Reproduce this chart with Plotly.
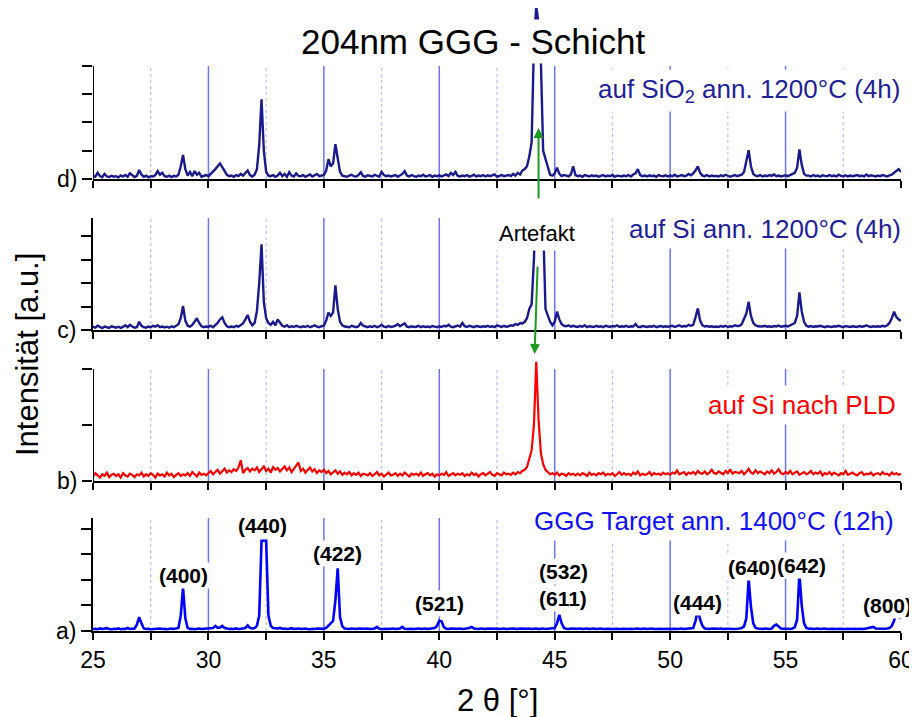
import plotly.graph_objects as go

# ---------------- data ----------------
two_theta = [round(25 + 0.1 * i, 1) for i in range(351)]

# a) GGG Target ann. 1400°C (12h)
target_1400 = (
    [0.08,0.09,0.07,0.10,0.08,0.09,0.11,0.08,0.07,0.09] +  # 25
    [0.08,0.10,0.07,0.09,0.08,0.12,0.08,0.09,0.10,0.25] +  # 26
    [0.54,0.30,0.10,0.08,0.09,0.07,0.08,0.09,0.08,0.10] +  # 27
    [0.08,0.09,0.07,0.08,0.10,0.08,0.09,0.12,0.60,1.70] +  # 28
    [0.50,0.12,0.08,0.09,0.07,0.08,0.10,0.08,0.09,0.08] +  # 29
    [0.09,0.10,0.12,0.20,0.12,0.14,0.20,0.12,0.09,0.08] +  # 30
    [0.09,0.08,0.10,0.08,0.09,0.11,0.12,0.22,0.12,0.10] +  # 31
    [0.12,0.20,0.60,3.54,3.54,3.54,0.60,0.20,0.12,0.11] +  # 32
    [0.10,0.12,0.09,0.10,0.08,0.09,0.11,0.08,0.09,0.10] +  # 33
    [0.08,0.09,0.10,0.08,0.07,0.09,0.08,0.10,0.09,0.08] +  # 34
    [0.09,0.12,0.20,0.30,0.40,1.20,2.46,0.55,0.18,0.10] +  # 35
    [0.09,0.08,0.10,0.09,0.08,0.10,0.09,0.08,0.09,0.10] +  # 36
    [0.08,0.09,0.10,0.16,0.09,0.08,0.10,0.09,0.08,0.09] +  # 37
    [0.10,0.08,0.09,0.10,0.16,0.09,0.08,0.10,0.09,0.08] +  # 38
    [0.09,0.10,0.08,0.09,0.10,0.08,0.09,0.10,0.12,0.20] +  # 39
    [0.40,0.38,0.15,0.09,0.08,0.10,0.09,0.08,0.09,0.10] +  # 40
    [0.08,0.09,0.10,0.12,0.16,0.10,0.09,0.08,0.10,0.09] +  # 41
    [0.08,0.10,0.09,0.08,0.09,0.10,0.08,0.09,0.10,0.08] +  # 42
    [0.09,0.08,0.10,0.09,0.08,0.10,0.09,0.08,0.09,0.10] +  # 43
    [0.08,0.09,0.10,0.08,0.09,0.10,0.08,0.09,0.10,0.09] +  # 44
    [0.12,0.30,0.63,0.30,0.12,0.09,0.08,0.10,0.09,0.08] +  # 45
    [0.09,0.10,0.08,0.09,0.10,0.08,0.09,0.10,0.08,0.09] +  # 46
    [0.10,0.08,0.09,0.10,0.09,0.08,0.10,0.09,0.08,0.10] +  # 47
    [0.09,0.08,0.10,0.09,0.08,0.09,0.10,0.08,0.09,0.10] +  # 48
    [0.08,0.09,0.10,0.08,0.09,0.10,0.09,0.08,0.10,0.09] +  # 49
    [0.08,0.10,0.09,0.08,0.09,0.10,0.08,0.09,0.10,0.09] +  # 50
    [0.12,0.40,0.85,0.45,0.20,0.10,0.09,0.08,0.10,0.09] +  # 51
    [0.08,0.09,0.10,0.08,0.09,0.10,0.09,0.08,0.10,0.09] +  # 52
    [0.10,0.12,0.18,0.50,2.04,0.95,0.30,0.12,0.10,0.09] +  # 53
    [0.08,0.10,0.09,0.08,0.10,0.20,0.25,0.18,0.10,0.09] +  # 54
    [0.10,0.09,0.08,0.10,0.15,0.45,2.24,1.00,0.30,0.12] +  # 55
    [0.09,0.10,0.08,0.09,0.10,0.08,0.09,0.10,0.08,0.09] +  # 56
    [0.10,0.09,0.08,0.10,0.09,0.08,0.10,0.09,0.08,0.10] +  # 57
    [0.09,0.08,0.10,0.09,0.08,0.10,0.09,0.12,0.16,0.10] +  # 58
    [0.09,0.10,0.08,0.09,0.10,0.12,0.20,0.40,0.78,0.55] +  # 59
    [0.50]
)

# b) auf Si nach PLD
si_pld = (
    [0.08,0.14,0.10,0.06,0.12,0.09,0.15,0.07,0.11,0.13] +  # 25
    [0.09,0.12,0.06,0.14,0.10,0.08,0.13,0.11,0.07,0.12] +  # 26
    [0.10,0.15,0.08,0.12,0.09,0.14,0.11,0.06,0.13,0.10] +  # 27
    [0.12,0.08,0.15,0.10,0.13,0.07,0.11,0.14,0.09,0.12] +  # 28
    [0.10,0.14,0.09,0.16,0.12,0.08,0.15,0.11,0.13,0.10] +  # 29
    [0.14,0.18,0.12,0.16,0.20,0.13,0.17,0.22,0.15,0.19] +  # 30
    [0.16,0.21,0.18,0.24,0.37,0.14,0.20,0.23,0.17,0.22] +  # 31
    [0.19,0.24,0.16,0.21,0.26,0.18,0.22,0.15,0.25,0.20] +  # 32
    [0.23,0.17,0.21,0.26,0.19,0.24,0.16,0.22,0.28,0.33] +  # 33
    [0.18,0.22,0.15,0.20,0.24,0.17,0.21,0.14,0.19,0.16] +  # 34
    [0.20,0.14,0.18,0.12,0.16,0.19,0.13,0.17,0.11,0.15] +  # 35
    [0.12,0.16,0.10,0.14,0.11,0.15,0.09,0.13,0.12,0.10] +  # 36
    [0.14,0.09,0.12,0.16,0.10,0.13,0.08,0.12,0.15,0.10] +  # 37
    [0.11,0.14,0.09,0.13,0.10,0.15,0.12,0.08,0.13,0.11] +  # 38
    [0.13,0.10,0.15,0.09,0.12,0.14,0.10,0.13,0.08,0.12] +  # 39
    [0.10,0.13,0.11,0.16,0.09,0.12,0.14,0.10,0.13,0.11] +  # 40
    [0.14,0.09,0.12,0.10,0.15,0.11,0.13,0.08,0.12,0.14] +  # 41
    [0.10,0.13,0.16,0.11,0.09,0.14,0.12,0.10,0.15,0.12] +  # 42
    [0.13,0.11,0.15,0.12,0.16,0.14,0.18,0.20,0.25,0.40] +  # 43
    [0.55,1.00,2.13,1.10,0.50,0.30,0.20,0.16,0.12,0.14] +  # 44
    [0.11,0.15,0.10,0.13,0.12,0.09,0.14,0.11,0.13,0.10] +  # 45
    [0.13,0.10,0.14,0.12,0.09,0.15,0.11,0.13,0.10,0.14] +  # 46
    [0.12,0.15,0.10,0.13,0.11,0.14,0.09,0.12,0.16,0.11] +  # 47
    [0.14,0.11,0.13,0.10,0.15,0.12,0.17,0.10,0.13,0.11] +  # 48
    [0.12,0.16,0.10,0.14,0.12,0.13,0.11,0.15,0.12,0.14] +  # 49
    [0.11,0.15,0.13,0.19,0.12,0.14,0.16,0.11,0.15,0.13] +  # 50
    [0.16,0.12,0.18,0.14,0.13,0.17,0.12,0.15,0.20,0.14] +  # 51
    [0.13,0.17,0.15,0.12,0.18,0.14,0.21,0.13,0.16,0.15] +  # 52
    [0.14,0.18,0.12,0.16,0.22,0.15,0.13,0.19,0.14,0.17] +  # 53
    [0.15,0.12,0.17,0.14,0.19,0.13,0.16,0.21,0.14,0.12] +  # 54
    [0.16,0.13,0.18,0.12,0.15,0.17,0.11,0.14,0.16,0.12] +  # 55
    [0.14,0.18,0.12,0.15,0.13,0.17,0.10,0.14,0.12,0.16] +  # 56
    [0.11,0.15,0.13,0.10,0.14,0.12,0.18,0.11,0.13,0.15] +  # 57
    [0.12,0.10,0.14,0.16,0.11,0.13,0.12,0.15,0.10,0.13] +  # 58
    [0.14,0.11,0.16,0.12,0.13,0.10,0.15,0.12,0.14,0.11] +  # 59
    [0.13]
)

# c) auf Si ann. 1200°C (4h)
si_1200 = (
    [0.14,0.10,0.18,0.12,0.08,0.15,0.11,0.09,0.16,0.12] +  # 25
    [0.10,0.14,0.09,0.13,0.20,0.12,0.22,0.15,0.10,0.12] +  # 26
    [0.35,0.18,0.12,0.10,0.15,0.12,0.18,0.14,0.20,0.12] +  # 27
    [0.15,0.11,0.14,0.10,0.16,0.12,0.18,0.25,0.50,1.02] +  # 28
    [0.40,0.18,0.14,0.22,0.35,0.50,0.30,0.16,0.12,0.15] +  # 29
    [0.14,0.18,0.12,0.20,0.30,0.45,0.54,0.30,0.16,0.12] +  # 30
    [0.15,0.12,0.18,0.14,0.20,0.28,0.45,0.64,0.35,0.20] +  # 31
    [0.30,0.80,2.00,3.65,1.20,0.50,0.30,0.22,0.35,0.20] +  # 32
    [0.45,0.30,0.18,0.14,0.20,0.12,0.16,0.13,0.18,0.14] +  # 33
    [0.12,0.16,0.13,0.18,0.12,0.15,0.20,0.14,0.12,0.16] +  # 34
    [0.18,0.40,0.74,0.60,0.75,1.90,0.90,0.35,0.20,0.15] +  # 35
    [0.14,0.12,0.18,0.15,0.12,0.16,0.30,0.18,0.14,0.12] +  # 36
    [0.16,0.13,0.18,0.12,0.15,0.22,0.14,0.12,0.17,0.13] +  # 37
    [0.15,0.18,0.25,0.16,0.22,0.28,0.14,0.12,0.16,0.13] +  # 38
    [0.14,0.18,0.12,0.16,0.13,0.15,0.12,0.17,0.14,0.12] +  # 39
    [0.16,0.13,0.18,0.15,0.22,0.14,0.12,0.16,0.19,0.14] +  # 40
    [0.30,0.16,0.13,0.18,0.14,0.12,0.17,0.15,0.13,0.16] +  # 41
    [0.14,0.18,0.13,0.16,0.12,0.20,0.15,0.13,0.18,0.14] +  # 42
    [0.16,0.20,0.18,0.25,0.22,0.30,0.28,0.35,0.50,0.90] +  # 43
    [1.10,3.00,6.50,7.00,6.50,4.50,0.90,0.60,0.35,0.20] +  # 44
    [0.35,0.78,0.45,0.25,0.18,0.16,0.20,0.14,0.18,0.15] +  # 45
    [0.13,0.17,0.14,0.20,0.12,0.16,0.15,0.13,0.18,0.14] +  # 46
    [0.16,0.12,0.18,0.14,0.13,0.17,0.15,0.20,0.13,0.16] +  # 47
    [0.14,0.18,0.13,0.16,0.15,0.25,0.14,0.12,0.17,0.15] +  # 48
    [0.13,0.16,0.14,0.18,0.12,0.15,0.17,0.13,0.16,0.14] +  # 49
    [0.15,0.18,0.13,0.16,0.20,0.14,0.17,0.15,0.22,0.18] +  # 50
    [0.22,0.55,0.92,0.40,0.20,0.15,0.17,0.14,0.16,0.13] +  # 51
    [0.15,0.13,0.17,0.14,0.18,0.13,0.16,0.15,0.20,0.17] +  # 52
    [0.18,0.25,0.45,0.70,1.20,0.60,0.30,0.20,0.16,0.14] +  # 53
    [0.15,0.18,0.14,0.16,0.13,0.17,0.15,0.19,0.14,0.16] +  # 54
    [0.18,0.15,0.20,0.22,0.30,0.60,1.60,0.80,0.35,0.18] +  # 55
    [0.14,0.17,0.13,0.16,0.15,0.18,0.14,0.12,0.16,0.15] +  # 56
    [0.13,0.16,0.15,0.18,0.14,0.12,0.17,0.15,0.13,0.16] +  # 57
    [0.15,0.13,0.17,0.14,0.16,0.20,0.15,0.13,0.16,0.14] +  # 58
    [0.16,0.14,0.18,0.15,0.20,0.30,0.50,0.78,0.55,0.45] +  # 59
    [0.40]
)

# d) auf SiO2 ann. 1200°C (4h)
sio2_1200 = (
    [0.12,0.08,0.22,0.10,0.06,0.18,0.09,0.07,0.11,0.08] +  # 25
    [0.10,0.06,0.13,0.09,0.14,0.08,0.20,0.12,0.07,0.11] +  # 26
    [0.32,0.15,0.08,0.12,0.06,0.10,0.09,0.14,0.28,0.15] +  # 27
    [0.22,0.10,0.08,0.12,0.07,0.11,0.09,0.15,0.45,0.85] +  # 28
    [0.35,0.12,0.25,0.10,0.28,0.15,0.22,0.08,0.11,0.14] +  # 29
    [0.10,0.18,0.25,0.35,0.45,0.55,0.42,0.28,0.15,0.10] +  # 30
    [0.12,0.08,0.14,0.10,0.18,0.12,0.22,0.30,0.14,0.09] +  # 31
    [0.15,0.35,1.20,2.82,1.00,0.25,0.12,0.10,0.14,0.08] +  # 32
    [0.12,0.22,0.10,0.18,0.08,0.24,0.12,0.09,0.20,0.11] +  # 33
    [0.10,0.14,0.08,0.12,0.16,0.09,0.13,0.18,0.10,0.12] +  # 34
    [0.14,0.30,0.70,0.45,0.55,1.23,0.70,0.25,0.12,0.10] +  # 35
    [0.08,0.12,0.15,0.10,0.09,0.14,0.24,0.11,0.08,0.13] +  # 36
    [0.10,0.09,0.15,0.12,0.08,0.25,0.14,0.10,0.12,0.09] +  # 37
    [0.11,0.14,0.08,0.12,0.18,0.28,0.12,0.09,0.14,0.10] +  # 38
    [0.08,0.12,0.10,0.15,0.09,0.11,0.14,0.08,0.12,0.10] +  # 39
    [0.13,0.09,0.12,0.16,0.10,0.22,0.14,0.25,0.11,0.09] +  # 40
    [0.12,0.10,0.14,0.08,0.11,0.15,0.09,0.12,0.10,0.14] +  # 41
    [0.09,0.13,0.10,0.12,0.16,0.08,0.11,0.14,0.10,0.12] +  # 42
    [0.14,0.10,0.18,0.12,0.22,0.16,0.30,0.35,0.45,0.80] +  # 43
    [1.30,4.80,6.10,5.50,4.20,1.00,0.70,0.35,0.15,0.12] +  # 44
    [0.20,0.40,0.18,0.10,0.14,0.12,0.09,0.16,0.45,0.14] +  # 45
    [0.10,0.12,0.08,0.14,0.11,0.09,0.13,0.10,0.12,0.08] +  # 46
    [0.11,0.14,0.09,0.12,0.10,0.15,0.08,0.12,0.11,0.09] +  # 47
    [0.12,0.10,0.14,0.09,0.16,0.20,0.35,0.14,0.10,0.12] +  # 48
    [0.09,0.13,0.10,0.12,0.08,0.14,0.11,0.10,0.13,0.09] +  # 49
    [0.12,0.10,0.15,0.09,0.11,0.14,0.10,0.12,0.18,0.13] +  # 50
    [0.20,0.30,0.45,0.22,0.12,0.10,0.14,0.09,0.12,0.10] +  # 51
    [0.11,0.09,0.13,0.10,0.15,0.12,0.08,0.11,0.14,0.10] +  # 52
    [0.12,0.15,0.25,0.60,1.02,0.45,0.18,0.12,0.10,0.14] +  # 53
    [0.09,0.12,0.10,0.14,0.11,0.16,0.10,0.12,0.09,0.11] +  # 54
    [0.13,0.10,0.15,0.18,0.22,0.40,1.05,0.50,0.18,0.12] +  # 55
    [0.12,0.09,0.14,0.10,0.12,0.08,0.13,0.11,0.10,0.14] +  # 56
    [0.10,0.12,0.09,0.15,0.11,0.10,0.13,0.09,0.12,0.10] +  # 57
    [0.11,0.14,0.10,0.12,0.09,0.16,0.10,0.13,0.11,0.09] +  # 58
    [0.12,0.10,0.14,0.11,0.09,0.13,0.15,0.22,0.30,0.35] +  # 59
    [0.25]
)

panel_letters = ["a)", "b)", "c)", "d)"]
panel_names = ["GGG Target ann. 1400°C (12h)", "auf Si nach PLD",
               "auf Si ann. 1200°C (4h)", "auf SiO<sub>2</sub> ann. 1200°C (4h)"]

x_ticks = [25, 27.5, 30, 32.5, 35, 37.5, 40, 42.5, 45, 47.5, 50, 52.5, 55, 57.5, 60]
x_ticklabels = ["25", "", "30", "", "35", "", "40", "", "45", "", "50", "", "55", "", "60"]
grid_solid = [30, 35, 40, 45, 50, 55]
grid_dotted = [27.5, 32.5, 37.5, 42.5, 47.5, 52.5, 57.5]

peak_labels = ["(400)", "(440)", "(422)", "(521)", "(532)", "(611)", "(444)", "(640)", "(642)", "(800)"]
peak_label_2theta = [28.94, 32.36, 35.6, 40.03, 45.36, 45.36, 51.19, 53.55, 55.67, 59.43]
artefakt_2theta = 44.3

# ---------------- layout helpers ----------------
# the page body adds an 8 px offset; the figure is sized to fill the rest of the window
OFF = 8
W, H = 917 - OFF, 717 - OFF
PLOT_LEFT, PLOT_RIGHT, PLOT_TOP, PLOT_BOTTOM = 93, 901, 8, 631   # window pixels
ML = PLOT_LEFT - OFF
MT = PLOT_TOP - OFF
MR = W - (PLOT_RIGHT - OFF)
MB = H - (PLOT_BOTTOM - OFF)
PLOT_W = PLOT_RIGHT - PLOT_LEFT
PLOT_H = PLOT_BOTTOM - PLOT_TOP


def py(p):
    return (PLOT_BOTTOM - p) / PLOT_H


def px(p):
    return (p - PLOT_LEFT) / PLOT_W


FONT = "Arial, Liberation Sans, sans-serif"
NAVY = "#1a1a8c"

panels = [
    dict(base=631, top=518, axis_top=4.43, rng=4.43, ticks=[0, 1, 2, 3, 4]),
    dict(base=481, top=361, axis_top=2.0, rng=2.143, ticks=[0, 1, 2]),
    dict(base=330, top=218, axis_top=4.77, rng=4.77, ticks=[0, 1, 2, 3, 4]),
    dict(base=179, top=8, axis_top=4.0, rng=6.05, ticks=[0, 1, 2, 3, 4]),
]
series = [target_1400, si_pld, si_1200, sio2_1200]
colors = ["#0000ff", "#ff0000", NAVY, NAVY]
widths = [2.6, 2.2, 2.4, 2.4]

fig = go.Figure()
layout = dict(
    width=W, height=H,
    margin=dict(l=ML, r=MR, t=MT, b=MB, autoexpand=False),
    paper_bgcolor="white", plot_bgcolor="white",
    showlegend=False,
    font=dict(family=FONT, color="black"),
)
shapes = []
annotations = []

for i, (p, ys, col, lw) in enumerate(zip(panels, series, colors, widths)):
    n = "" if i == 0 else str(i + 1)
    xa, ya = "x" + n, "y" + n
    fig.add_trace(go.Scatter(x=two_theta, y=ys, mode="lines",
                             line=dict(color=col, width=lw),
                             xaxis=xa, yaxis=ya, hoverinfo="skip"))
    layout["xaxis" + n] = dict(
        range=[25, 60], anchor=ya, domain=[0, 1],
        tickmode="array", tickvals=x_ticks,
        ticktext=x_ticklabels, showticklabels=(i == 0),
        tickfont=dict(size=23, family=FONT, color="black"),
        ticks="outside", ticklen=7, tickwidth=2, tickcolor="black",
        showline=True, linewidth=2, linecolor="black",
        showgrid=False, zeroline=False,
    )
    use_line = p["rng"] == p["axis_top"]
    layout["yaxis" + n] = dict(
        range=[0, p["rng"]], anchor=xa,
        domain=[py(p["base"]), py(p["top"])],
        tickmode="array", tickvals=p["ticks"],
        ticktext=[panel_letters[i]] + [""] * (len(p["ticks"]) - 1),
        tickfont=dict(size=23, family=FONT, color="black"),
        ticks="outside", ticklen=10, tickwidth=2, tickcolor="black",
        showline=use_line, linewidth=2, linecolor="black",
        showgrid=False, zeroline=False,
    )
    if not use_line:
        shapes.append(dict(type="line", xref=xa, yref=ya, x0=25, x1=25,
                           y0=0, y1=p["axis_top"], layer="above",
                           line=dict(color="black", width=2)))
    for g in grid_solid:
        shapes.append(dict(type="line", xref=xa, yref=ya, x0=g, x1=g,
                           y0=0, y1=p["axis_top"], layer="below",
                           line=dict(color="#6a74ff", width=1.5)))
    for g in grid_dotted:
        shapes.append(dict(type="line", xref=xa, yref=ya, x0=g, x1=g,
                           y0=0, y1=p["axis_top"], layer="below",
                           line=dict(color="#b8bcff", width=1.2, dash="dot")))

# title
annotations.append(dict(text="204nm GGG - Schicht", xref="paper", yref="paper",
                        x=px(473), y=py(41), xanchor="center", yanchor="middle",
                        showarrow=False, bgcolor="white", borderpad=2,
                        font=dict(size=35, family=FONT, color="black")))
# axis titles
annotations.append(dict(text="Intensität [a.u.]", xref="paper", yref="paper",
                        x=px(27), y=py(355), textangle=-90, xanchor="center", yanchor="middle",
                        showarrow=False, font=dict(size=31, family=FONT, color="black")))
annotations.append(dict(text="2 θ [°]", xref="paper", yref="paper",
                        x=px(497), y=py(700), xanchor="center", yanchor="middle",
                        showarrow=False, font=dict(size=31, family=FONT, color="black")))

# panel names
name_pos = [(899, 521, "#1010ff"), (901, 405, "#ff0000"), (906, 229, "#1f1f99"), (905, 90, "#1f1f99")]
for name, (x_r, y_c, c) in zip(panel_names, name_pos):
    annotations.append(dict(text=name, xref="paper", yref="paper",
                            x=px(x_r), y=py(y_c), xanchor="right", yanchor="middle",
                            showarrow=False, bgcolor="white", borderpad=4,
                            font=dict(size=26, family=FONT, color=c)))

annotations.append(dict(text="Artefakt", xref="paper", yref="paper",
                        x=px(537), y=py(233), xanchor="center", yanchor="middle",
                        showarrow=False, bgcolor="white", borderpad=4,
                        font=dict(size=22, family=FONT, color="black")))

# peak labels on panel a)
label_y = [575, 525, 553, 603, 571, 598, 602, 567, 565, 605]
for lab, tt, yy in zip(peak_labels, peak_label_2theta, label_y):
    annotations.append(dict(text="<b>" + lab + "</b>", xref="x", yref="paper",
                            x=tt, y=py(yy), xanchor="center", yanchor="middle",
                            showarrow=False, bgcolor="white", borderpad=1,
                            font=dict(size=21, family=FONT, color="black")))

# green arrows marking the artefact
GREEN = "#1e9a1e"
annotations.append(dict(text="", x=artefakt_2theta, y=py(128), xref="x", yref="paper",
                        showarrow=True, ax=0, ay=72, arrowhead=2, arrowsize=1,
                        arrowwidth=2, arrowcolor=GREEN, standoff=0))
annotations.append(dict(text="", x=artefakt_2theta - 0.17, y=py(354), xref="x", yref="paper",
                        showarrow=True, ax=3, ay=-89, arrowhead=2, arrowsize=1,
                        arrowwidth=2, arrowcolor=GREEN, standoff=0))

layout["shapes"] = shapes
layout["annotations"] = annotations
fig.update_layout(**layout)

fig.write_html("out.html")
